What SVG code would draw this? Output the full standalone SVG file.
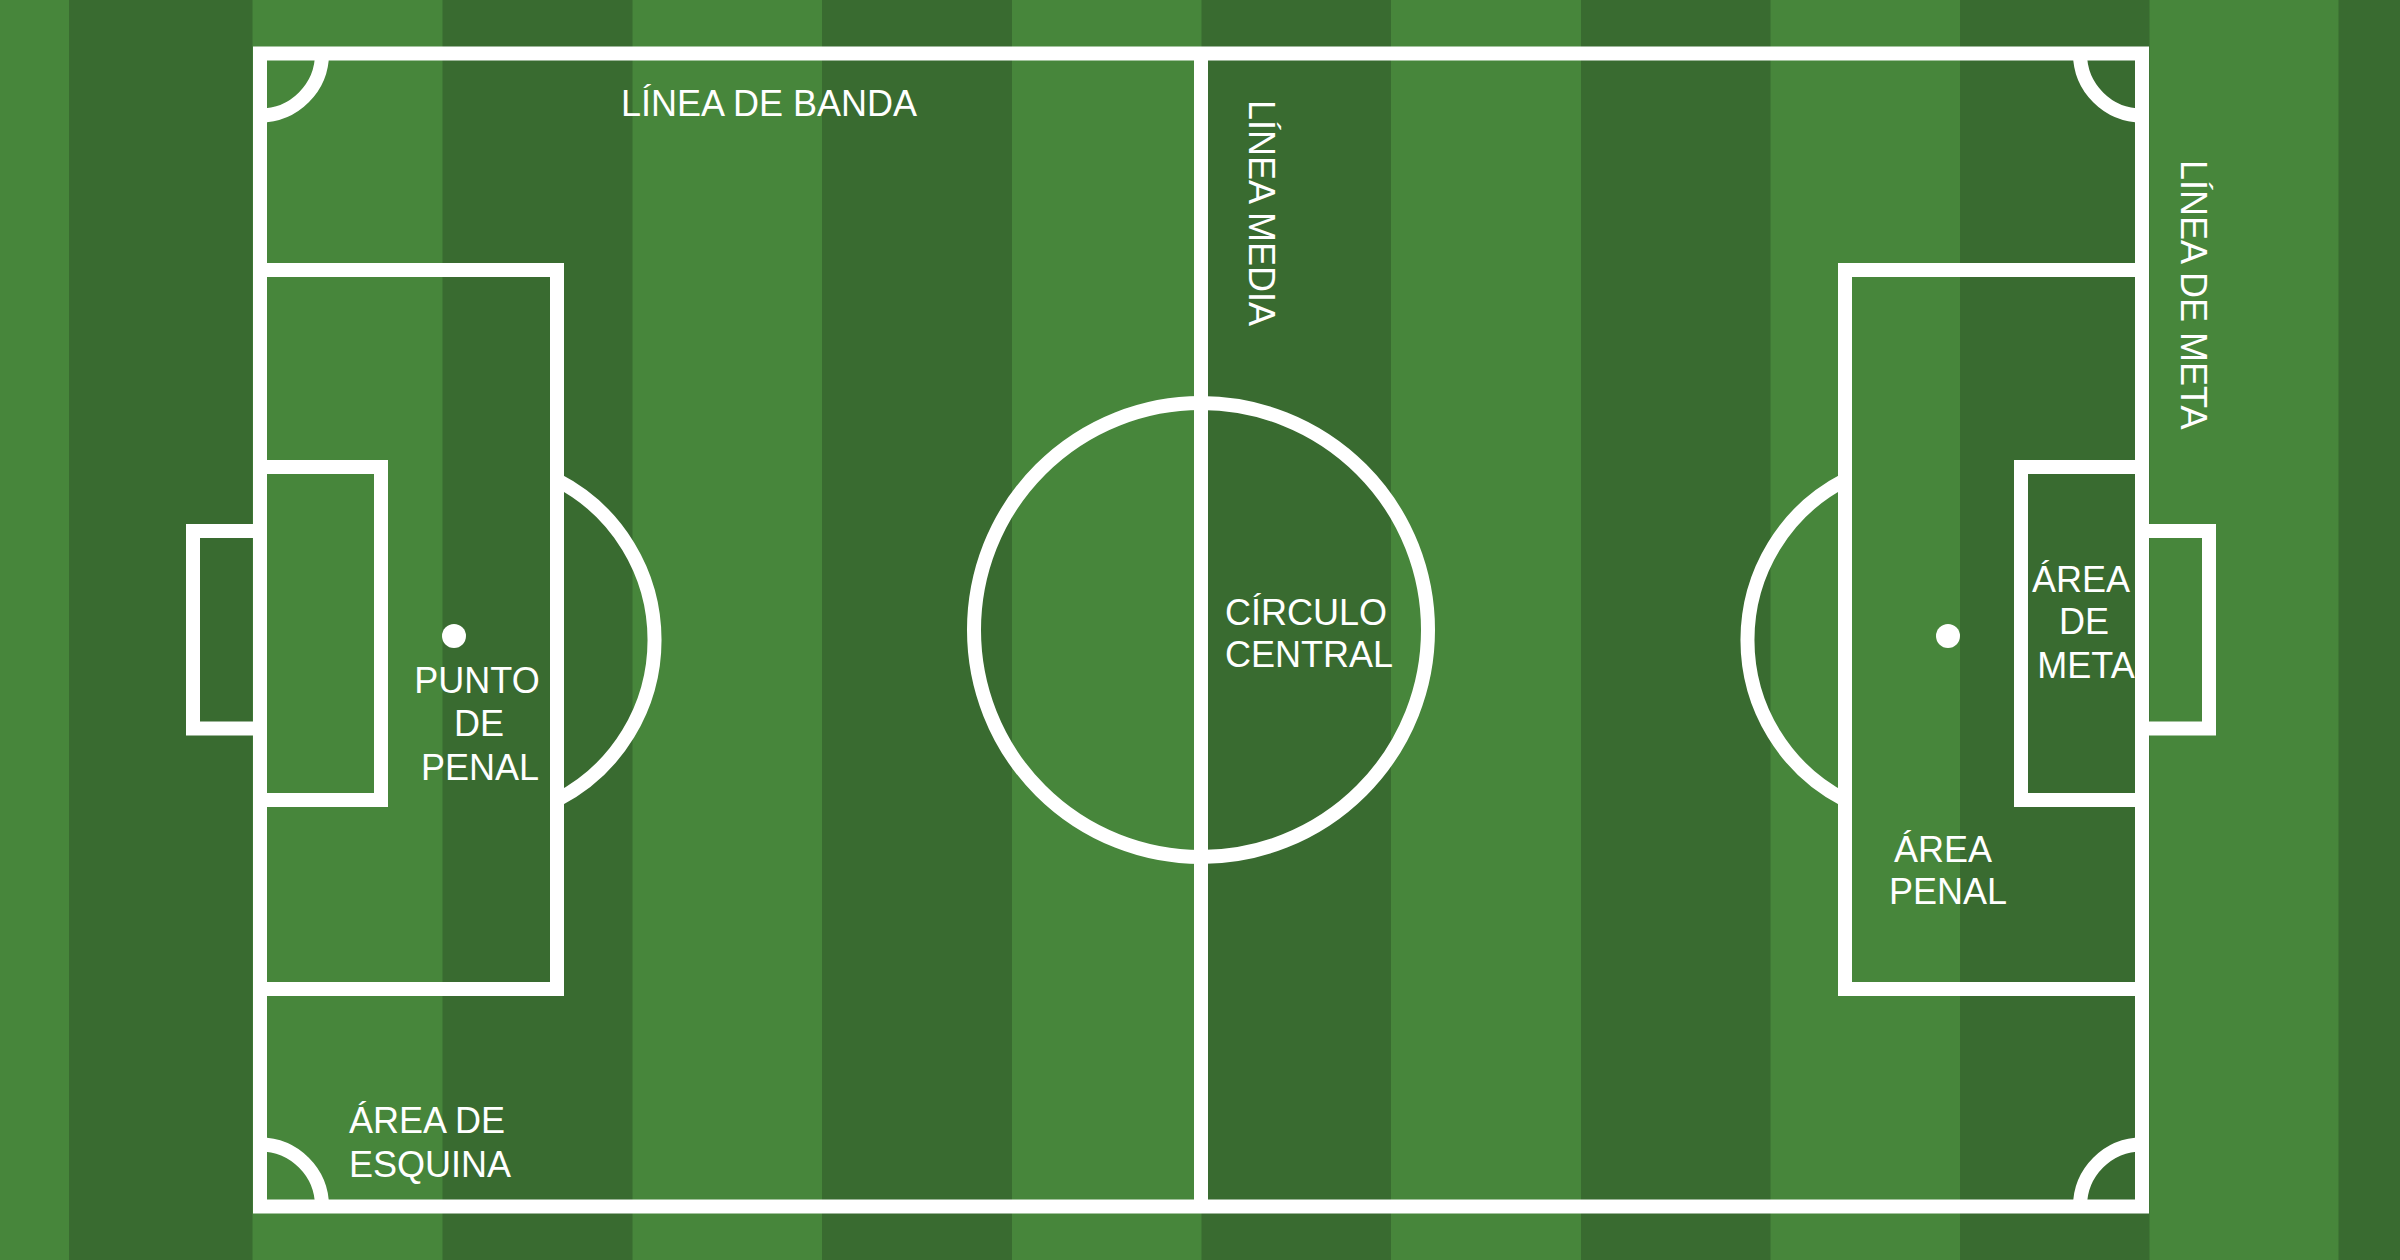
<svg xmlns="http://www.w3.org/2000/svg" width="2400" height="1260" viewBox="0 0 2400 1260">
<style>
.light{fill:#47863b}
.dark{fill:#396b30}
.ln{fill:none;stroke:#ffffff;stroke-width:14}
.spot{fill:#ffffff}
.lbl{font-family:"Liberation Sans",Arial,sans-serif;font-size:36px;fill:#ffffff}
.mid{text-anchor:middle}
</style>
<g id="grass">
<rect class="light" x="0" y="0" width="2400" height="1260"/>
<rect class="dark" x="69" y="0" width="183.5" height="1260"/>
<rect class="dark" x="442.5" y="0" width="190" height="1260"/>
<rect class="dark" x="822" y="0" width="190" height="1260"/>
<rect class="dark" x="1201.5" y="0" width="189.5" height="1260"/>
<rect class="dark" x="1581" y="0" width="189.5" height="1260"/>
<rect class="dark" x="1960" y="0" width="189.5" height="1260"/>
<rect class="dark" x="2338.5" y="0" width="61.5" height="1260"/>
</g>
<g id="lines">
<rect id="boundary" class="ln" x="260" y="53.5" width="1882" height="1153"/>
<line id="midline" class="ln" x1="1201" y1="53.5" x2="1201" y2="1206.5"/>
<circle id="center-circle" class="ln" cx="1201" cy="630" r="227"/>
<path id="goal-left" class="ln" d="M260,531 H193 V728.5 H260"/>
<path id="goal-right" class="ln" d="M2142,531 H2209 V728.5 H2142"/>
<path id="goal-area-left" class="ln" d="M260,467 H381 V800 H260"/>
<path id="goal-area-right" class="ln" d="M2142,467 H2021 V800 H2142"/>
<path id="penalty-area-left" class="ln" d="M260,270 H557 V989 H260"/>
<path id="penalty-area-right" class="ln" d="M2142,270 H1845 V989 H2142"/>
<path id="penalty-arc-left" class="ln" d="M557,480 A180,180 0 0 1 557,800"/>
<path id="penalty-arc-right" class="ln" d="M1845,480 A180,180 0 0 0 1845,800"/>
<path id="corner-tl" class="ln" d="M260,115.5 A62,62 0 0 0 322,53.5"/>
<path id="corner-tr" class="ln" d="M2080,53.5 A62,62 0 0 0 2142,115.5"/>
<path id="corner-bl" class="ln" d="M260,1144.5 A62,62 0 0 1 322,1206.5"/>
<path id="corner-br" class="ln" d="M2080,1206.5 A62,62 0 0 1 2142,1144.5"/>
<circle id="penalty-spot-left" class="spot" cx="454" cy="636" r="12"/>
<circle id="penalty-spot-right" class="spot" cx="1948" cy="636" r="12"/>
</g>
<g id="label-linea-banda"><text class="lbl" x="621" y="116">LÍNEA DE BANDA</text></g>
<g id="label-linea-media"><text class="lbl" transform="translate(1249,100) rotate(90)" x="0" y="0">LÍNEA MEDIA</text></g>
<g id="label-linea-meta"><text class="lbl" transform="translate(2181,160) rotate(90)" x="0" y="0">LÍNEA DE META</text></g>
<g id="label-punto-penal"><text class="lbl mid"><tspan x="477" y="693">PUNTO</tspan><tspan x="479" y="736">DE</tspan><tspan x="480" y="780">PENAL</tspan></text></g>
<g id="label-circulo-central"><text class="lbl"><tspan x="1225" y="625">CÍRCULO</tspan><tspan x="1225" y="667">CENTRAL</tspan></text></g>
<g id="label-area-meta"><text class="lbl mid"><tspan x="2081" y="592">ÁREA</tspan><tspan x="2084" y="634">DE</tspan><tspan x="2086" y="678">META</tspan></text></g>
<g id="label-area-penal"><text class="lbl mid"><tspan x="1943" y="862">ÁREA</tspan><tspan x="1948" y="904">PENAL</tspan></text></g>
<g id="label-area-esquina"><text class="lbl"><tspan x="349" y="1133">ÁREA DE</tspan><tspan x="349" y="1177">ESQUINA</tspan></text></g>
</svg>
